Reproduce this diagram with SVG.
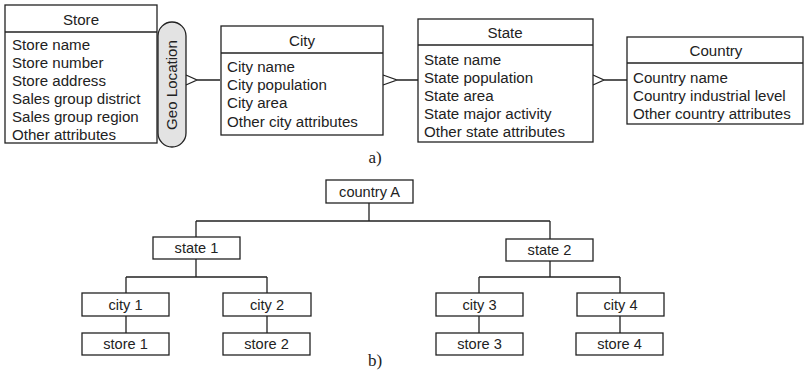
<svg xmlns="http://www.w3.org/2000/svg" width="805" height="376" viewBox="0 0 805 376">
<style>
.box{fill:#fff;stroke:#222;stroke-width:1.3}
.pill{fill:#e3e3e3;stroke:#222;stroke-width:1.3}
.ln{fill:none;stroke:#222;stroke-width:1.3}
text{font-family:"Liberation Sans",Arial,sans-serif;fill:#222}
.t{font-size:15.1px}
.h{font-size:15.1px;text-anchor:middle}
.n{font-size:14.6px;text-anchor:middle}
.lab{font-family:"Liberation Serif","Times New Roman",serif;font-size:17px;text-anchor:middle}
</style>
<rect width="805" height="376" fill="#fff"/>
<g id="connectors">
<path class="ln" d="M186,75 L197,80 L186,85 M197,80 H220"/>
<path class="ln" d="M383,75 L397,80 L383,85 M397,80 H418"/>
<path class="ln" d="M593,75 L604,80 L593,85 M604,80 H627"/>
<path class="ln" d="M369,203 V221 M196,221 H550 M196,221 V237 M550,221 V239"/>
<path class="ln" d="M196,259 V277 M126,277 H267 M126,277 V293 M267,277 V293"/>
<path class="ln" d="M550,261 V277 M479,277 H620 M479,277 V293 M620,277 V293"/>
<path class="ln" d="M126,316 V333 M267,316 V333 M479,316 V333 M620,316 V333"/>
</g>
<g id="store">
<rect class="box" x="5" y="5" width="152" height="138"/>
<line class="ln" x1="5" y1="32" x2="157" y2="32"/>
<text class="h" x="81" y="25">Store</text>
<text class="t" x="12" y="50">Store name</text>
<text class="t" x="12" y="68">Store number</text>
<text class="t" x="12" y="86">Store address</text>
<text class="t" x="12" y="104">Sales group district</text>
<text class="t" x="12" y="122">Sales group region</text>
<text class="t" x="12" y="140">Other attributes</text>
</g>
<g id="geo-location">
<rect class="pill" x="158" y="22" width="28" height="125" rx="14" ry="14"/>
<text class="h" transform="translate(177,85) rotate(-90)">Geo Location</text>
</g>
<g id="city">
<rect class="box" x="221" y="26" width="162" height="109"/>
<line class="ln" x1="221" y1="53" x2="383" y2="53"/>
<text class="h" x="302" y="46">City</text>
<text class="t" x="227" y="72">City name</text>
<text class="t" x="227" y="90">City population</text>
<text class="t" x="227" y="108">City area</text>
<text class="t" x="227" y="127">Other city attributes</text>
</g>
<g id="state">
<rect class="box" x="418" y="19" width="175" height="123"/>
<line class="ln" x1="418" y1="45" x2="593" y2="45"/>
<text class="h" x="505" y="38">State</text>
<text class="t" x="424" y="65">State name</text>
<text class="t" x="424" y="83">State population</text>
<text class="t" x="424" y="101">State area</text>
<text class="t" x="424" y="119">State major activity</text>
<text class="t" x="424" y="137">Other state attributes</text>
</g>
<g id="country">
<rect class="box" x="627" y="37" width="176" height="87"/>
<line class="ln" x1="627" y1="63" x2="803" y2="63"/>
<text class="h" x="716" y="56">Country</text>
<text class="t" x="633" y="83">Country name</text>
<text class="t" x="633" y="101">Country industrial level</text>
<text class="t" x="633" y="119">Other country attributes</text>
</g>
<text class="lab" x="375" y="163">a)</text>
<g id="country-a">
<rect class="box" x="326" y="180" width="87" height="23"/>
<text class="n" x="369.5" y="197">country A</text>
</g>
<g id="state-1">
<rect class="box" x="153" y="237" width="87" height="22"/>
<text class="n" x="196.5" y="253">state 1</text>
</g>
<g id="state-2">
<rect class="box" x="506" y="239" width="87" height="22"/>
<text class="n" x="549.5" y="255">state 2</text>
</g>
<g id="city-1">
<rect class="box" x="82" y="293" width="87" height="23"/>
<text class="n" x="125.5" y="310">city 1</text>
</g>
<g id="city-2">
<rect class="box" x="223" y="293" width="88" height="23"/>
<text class="n" x="267" y="310">city 2</text>
</g>
<g id="city-3">
<rect class="box" x="436" y="293" width="87" height="23"/>
<text class="n" x="479.5" y="310">city 3</text>
</g>
<g id="city-4">
<rect class="box" x="577" y="293" width="87" height="23"/>
<text class="n" x="620.5" y="310">city 4</text>
</g>
<g id="store-1">
<rect class="box" x="82" y="333" width="87" height="22"/>
<text class="n" x="125.5" y="349">store 1</text>
</g>
<g id="store-2">
<rect class="box" x="223" y="333" width="87" height="22"/>
<text class="n" x="266.5" y="349">store 2</text>
</g>
<g id="store-3">
<rect class="box" x="436" y="333" width="87" height="22"/>
<text class="n" x="479.5" y="349">store 3</text>
</g>
<g id="store-4">
<rect class="box" x="576" y="333" width="87" height="22"/>
<text class="n" x="619.5" y="349">store 4</text>
</g>
<text class="lab" x="375" y="366">b)</text>
</svg>
